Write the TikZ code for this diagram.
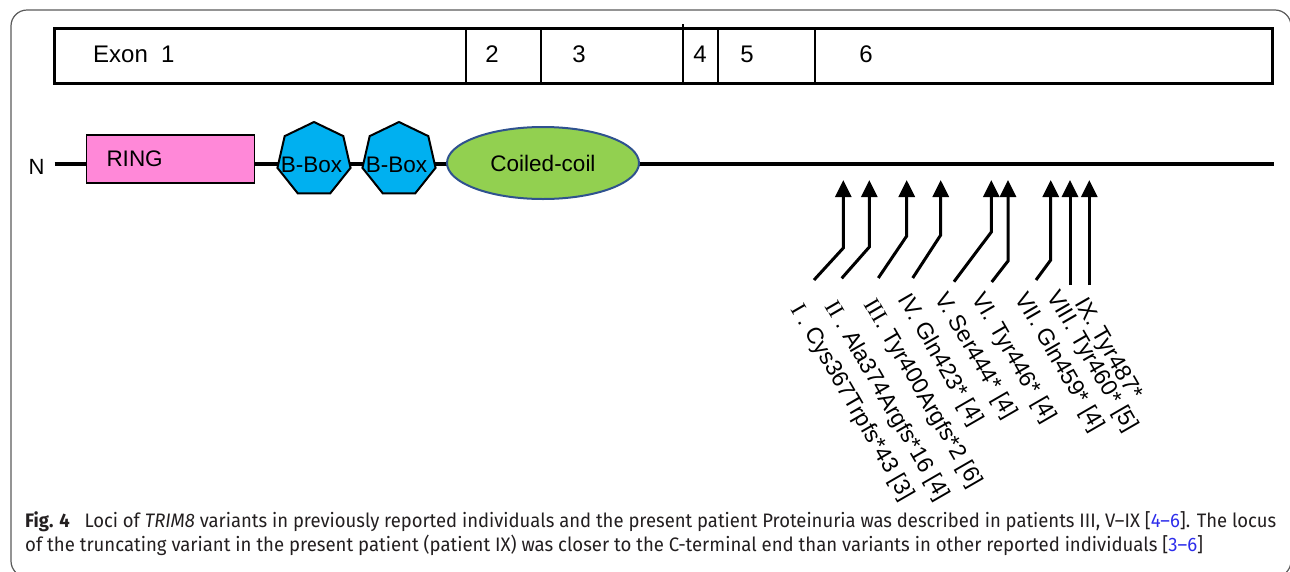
\documentclass[tikz,border=0pt]{standalone}
\usepackage{fontspec}
\usepackage{graphicx}
\setmainfont{Liberation Sans}
\newfontfamily\capfont{Fira Sans}
\newfontfamily\romfont{Liberation Serif}
\usetikzlibrary{arrows.meta,shapes.geometric}
\definecolor{ringpink}{RGB}{255,136,216}
\definecolor{boxblue}{RGB}{0,176,240}
\definecolor{coilgreen}{RGB}{146,208,80}
\definecolor{coiledge}{RGB}{47,82,143}
\definecolor{captext}{RGB}{35,31,32}
\definecolor{citeblue}{RGB}{45,45,235}
\definecolor{framegray}{RGB}{90,90,90}
\tikzset{
  protdomain/.style={draw=black, line width=1.5pt, inner sep=0pt, font=\fontsize{22.5}{26}\selectfont},
  ringbox/.style={protdomain, rectangle, fill=ringpink, minimum height=48pt, text width=128pt, inner xsep=20pt, align=left},
  bbox/.style={protdomain, regular polygon, regular polygon sides=7, fill=boxblue, minimum size=75pt, line width=2pt},
  coil/.style={protdomain, ellipse, fill=coilgreen, draw=coiledge, line width=2pt, minimum width=192pt, minimum height=72pt},
  exontext/.style={anchor=base, inner sep=0pt, font=\fontsize{24}{28}\selectfont},
  variant/.style={line width=3pt, -{Triangle[width=16pt,length=17pt]}},
  varlabel/.style={anchor=west, rotate=-60, inner sep=0pt, font=\fontsize{23}{27}\selectfont},
  capline/.style={anchor=base west, inner sep=0pt, text=captext, font=\capfont\fontsize{19.5}{22}\selectfont},
}
\newcommand{\bboxtext}{\makebox[0pt]{\raisebox{-5pt}[\height][\depth]{\hspace{-5pt}B-Box}}}
\begin{document}
\begin{tikzpicture}[x=1pt,y=-1pt]
  \clip (0,0) rectangle (1290,571);
  % frame
  \draw[framegray, line width=1.2pt, rounded corners=16pt] (11,10) rectangle (1291,577);
  % exons
  \draw[line width=3pt] (54,28) rectangle (1272,83);
  \draw[line width=1.3pt] (466,28) -- (466,83);
  \draw[line width=1.3pt] (541,28) -- (541,83);
  \draw[line width=1.3pt] (683,24) -- (683,83);
  \draw[line width=1.3pt] (718,28) -- (718,83);
  \draw[line width=1.3pt] (815,28) -- (815,83);
  \node[exontext, anchor=base west] (ex1) at (93,62) {Exon~~1};
  \node[exontext] (ex2) at (492,62) {2};
  \node[exontext] (ex3) at (579,62) {3};
  \node[exontext] (ex4) at (700,62) {4};
  \node[exontext] (ex5) at (747,62) {5};
  \node[exontext] (ex6) at (866,62) {6};
  % protein
  \node[font=\fontsize{22}{26}\selectfont, inner xsep=10pt, inner ysep=0pt, anchor=base] (N) at (36.5,174) {N};
  \coordinate (C) at (1274,164);
  \draw[line width=4pt] (N.east |- C) -- (C);
  \node[ringbox] (ring) at (170.5,159) {RING};
  \node[bbox] (bb1) at (314,159.5) {\bboxtext};
  \node[bbox] (bb2) at (399,159.5) {\bboxtext};
  \node[coil] (coil) at (543,163) {Coiled-coil};
  % variants
  \coordinate (T1) at (814,280);    \coordinate (K1) at (843.3,248); \coordinate (H1) at (843.3,180);
  \coordinate (T2) at (841.7,278.3);\coordinate (K2) at (869.3,247); \coordinate (H2) at (869.3,180);
  \coordinate (T3) at (878.3,278);  \coordinate (K3) at (906.7,236); \coordinate (H3) at (906.7,180);
  \coordinate (T4) at (912.7,278);  \coordinate (K4) at (940.7,235); \coordinate (H4) at (940.7,180);
  \coordinate (T5) at (954,281.7);  \coordinate (K5) at (991.3,232); \coordinate (H5) at (991.3,180);
  \coordinate (T6) at (991.7,282);  \coordinate (K6) at (1008,261);  \coordinate (H6) at (1008,180);
  \coordinate (T7) at (1036,280);   \coordinate (K7) at (1050.7,260);\coordinate (H7) at (1050.7,180);
  \coordinate (T8) at (1070,285);   \coordinate (H8) at (1070,180);
  \coordinate (T9) at (1089.3,285); \coordinate (H9) at (1089.3,180);
  \draw[variant] (T1) -- (K1) -- (H1);
  \draw[variant] (T2) -- (K2) -- (H2);
  \draw[variant] (T3) -- (K3) -- (H3);
  \draw[variant] (T4) -- (K4) -- (H4);
  \draw[variant] (T5) -- (K5) -- (H5);
  \draw[variant] (T6) -- (K6) -- (H6);
  \draw[variant] (T7) -- (K7) -- (H7);
  \draw[variant] (T8) -- (H8);
  \draw[variant] (T9) -- (H9);
  \node[varlabel] (L1) at (796,306) {{\romfont I} . Cys367Trpfs*43 [3]};
  \node[varlabel] (L2) at (830,303) {{\romfont II} . Ala374Argfs*16 [4]};
  \node[varlabel] (L3) at (869,301) {{\romfont III}. Tyr400Argfs*2 [6]};
  \node[varlabel] (L4) at (903,296) {IV. Gln423* [4]};
  \node[varlabel] (L5) at (940,295) {V. Ser444* [4]};
  \node[varlabel] (L6) at (977,295) {VI. Tyr446* [4]};
  \node[varlabel] (L7) at (1020,295) {VII. Gln459* [4]};
  \node[varlabel] (L8) at (1052,293) {VIII. Tyr460* [5]};
  \node[varlabel] (L9) at (1079,300) {IX. Tyr487*};
  % caption
  \node[capline] (cap1) at (25,527) {\resizebox{1251pt}{\height}{\textbf{Fig. 4}\hspace{0.8em}Loci of \textit{TRIM8} variants in previously reported individuals and the present patient Proteinuria was described in patients III, V–IX [\textcolor{citeblue}{4–6}]. The locus}};
  \node[capline] (cap2) at (25,551) {\resizebox{1178pt}{\height}{of the truncating variant in the present patient (patient IX) was closer to the C-terminal end than variants in other reported individuals [\textcolor{citeblue}{3–6}]}};
\end{tikzpicture}
\end{document}
